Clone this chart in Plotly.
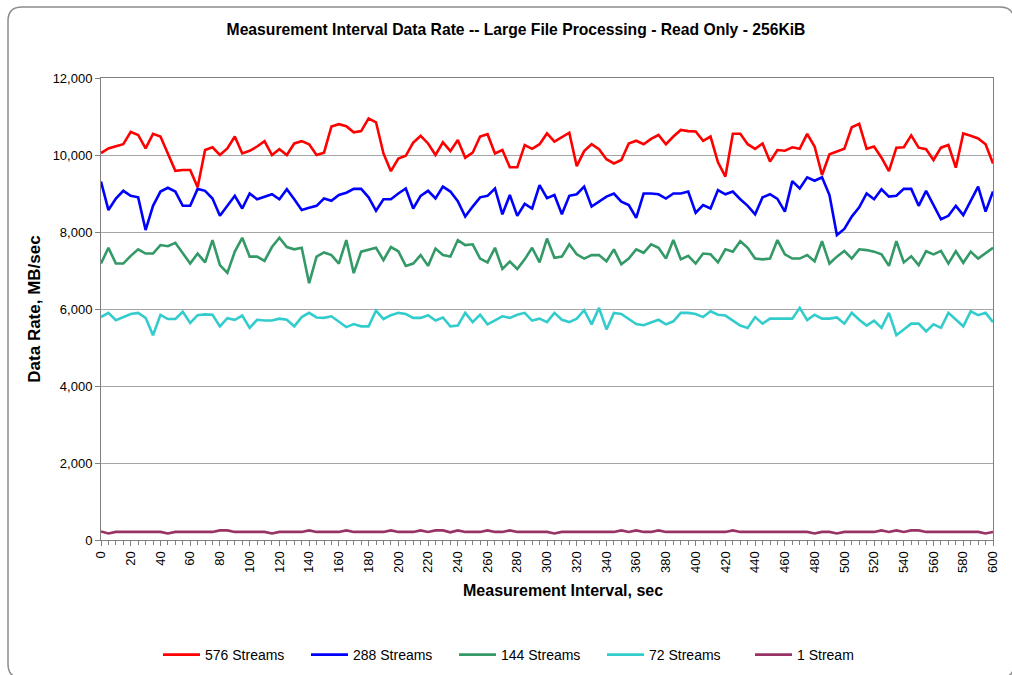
import plotly.graph_objects as go

# ---------------- data ----------------
intervals = list(range(0, 605, 5))  # seconds

streams_576 = [
    10050, 10170, 10230, 10280, 10600, 10520, 10170, 10550, 10480, 10040,
    9590, 9610, 9610, 9160, 10130, 10200, 10000, 10170, 10480, 10040,
    10110, 10220, 10360, 10000, 10150, 10000, 10300, 10360, 10280, 10000,
    10060,
    10740, 10800, 10750, 10590, 10620, 10950, 10850, 10040, 9580, 9910,
    9980, 10320, 10500, 10300, 10000, 10330, 10100, 10390, 9930, 10060,
    10480, 10540, 10040, 10130, 9680, 9680, 10260, 10160, 10280, 10560,
    10350, 10460, 10580, 9710, 10100, 10280, 10150, 9890, 9780, 9870,
    10300, 10370, 10280, 10420, 10520, 10280, 10480, 10650, 10620, 10610,
    10370, 10480, 9810, 9440, 10550, 10550, 10280, 10160, 10300, 9830,
    10130, 10110, 10200, 10160, 10550, 10220, 9480, 10020, 10090, 10160,
    10720, 10810, 10160, 10220, 9930, 9580, 10190, 10200, 10510, 10190,
    10150, 9870, 10190, 10260, 9670, 10560, 10500, 10430, 10280, 9780,
]

streams_288 = [
    9310, 8570, 8870, 9070, 8940, 8900, 8050, 8680, 9050, 9150,
    9050, 8680, 8680, 9120, 9070, 8870, 8420, 8680, 8940, 8610,
    9000, 8850, 8920, 8980, 8850, 9110, 8850, 8570, 8630, 8680,
    8870,
    8810, 8960, 9020, 9120, 9120, 8900, 8550, 8850, 8850, 9000,
    9130, 8610, 8940, 9070, 8870, 9180, 9050, 8800, 8400, 8660,
    8900, 8940, 9130, 8460, 8960, 8420, 8730, 8610, 9220, 8880,
    8960, 8460, 8940, 8980, 9180, 8660, 8790, 8920, 9000, 8790,
    8700, 8370, 9000, 9000, 8980, 8870, 9000, 9000, 9050, 8500,
    8700, 8610, 9090, 8980, 9050, 8850, 8680, 8460, 8900, 8980,
    8860, 8530, 9320, 9130, 9420, 9330, 9420, 8960, 7920, 8080,
    8400, 8640, 9000, 8850, 9110, 8920, 8940, 9120, 9120, 8680,
    9070, 8700, 8330, 8420, 8680, 8440, 8790, 9180, 8530, 9050,
]

streams_144 = [
    7180, 7590, 7180, 7180, 7380, 7550, 7440, 7440, 7660, 7630,
    7720, 7440, 7180, 7440, 7210, 7790, 7140, 6940, 7490, 7850,
    7360, 7360, 7250, 7610, 7850, 7610, 7550, 7590, 6670, 7360,
    7470,
    7400, 7180, 7790, 6930, 7490, 7550, 7590, 7270, 7610, 7500,
    7120, 7180, 7400, 7120, 7570, 7400, 7360, 7790, 7660, 7680,
    7310, 7210, 7590, 7040, 7230, 7040, 7290, 7590, 7210, 7830,
    7330, 7360, 7680, 7420, 7310, 7400, 7400, 7240, 7550, 7160,
    7310, 7550, 7460, 7680, 7590, 7310, 7790, 7290, 7380, 7180,
    7440, 7420, 7210, 7550, 7490, 7760, 7590, 7310, 7290, 7310,
    7790, 7420, 7310, 7310, 7400, 7240, 7760, 7180, 7360, 7510,
    7310, 7550, 7530, 7490, 7420, 7120, 7760, 7210, 7370, 7140,
    7500, 7420, 7510, 7180, 7500, 7200, 7490, 7310, 7460, 7590,
]

streams_72 = [
    5790, 5900, 5710, 5790, 5870, 5900, 5770, 5320, 5850, 5740,
    5740, 5930, 5640, 5840, 5860, 5850, 5550, 5760, 5720, 5830,
    5510, 5720, 5700, 5700, 5750, 5720, 5550, 5790, 5900, 5780,
    5770,
    5810, 5680, 5530, 5610, 5550, 5550, 5960, 5740, 5840, 5900,
    5870, 5770, 5770, 5840, 5700, 5780, 5550, 5570, 5900, 5660,
    5850, 5600, 5710, 5810, 5770, 5850, 5900, 5700, 5750, 5660,
    5900, 5720, 5660, 5750, 5970, 5600, 6030, 5470, 5900, 5870,
    5740, 5610, 5580, 5660, 5720, 5600, 5680, 5900, 5900, 5870,
    5790, 5940, 5850, 5830, 5710, 5570, 5510, 5790, 5620, 5750,
    5750, 5750, 5750, 6030, 5710, 5850, 5750, 5750, 5780, 5620,
    5900, 5720, 5570, 5700, 5510, 5900, 5320, 5470, 5620, 5620,
    5420, 5600, 5510, 5900, 5720, 5550, 5940, 5840, 5900, 5660,
]

stream_1 = [
    220, 170, 210, 210, 210, 210, 210, 210, 210, 170,
    210, 210, 210, 210, 210, 210, 250, 250, 210, 210,
    210, 210, 210, 170, 210, 210, 210, 210, 250, 210,
    210, 210, 210, 250, 210, 210, 210, 210, 210, 250,
    210, 210, 210, 250, 210, 250, 250, 200, 250, 210,
    210, 210, 250, 210, 210, 250, 210, 210, 210, 210,
    210, 170, 210, 210, 210, 210, 210, 210, 210, 210,
    250, 210, 250, 210, 210, 250, 210, 210, 210, 210,
    210, 210, 210, 210, 210, 250, 210, 210, 210, 210,
    210, 210, 210, 210, 210, 210, 170, 210, 210, 170,
    210, 210, 210, 210, 210, 250, 210, 250, 210, 250,
    250, 210, 210, 210, 210, 210, 210, 210, 210, 170,
    210,
]

series_names = ["576 Streams", "288 Streams", "144 Streams", "72 Streams", "1 Stream"]
series_values = [streams_576, streams_288, streams_144, streams_72, stream_1]
series_colors = ["#FF0000", "#0000FF", "#339966", "#33CCCC", "#993366"]

x_ticks = list(range(0, 620, 20))
y_ticks = list(range(0, 14000, 2000))

# ---------------- figure ----------------
FONT = "Liberation Sans, Arial, sans-serif"
W, H = 1012, 675
L, R, T, B = 101, 19, 78, 135
PW, PH = W - L - R, H - T - B

fig = go.Figure()
for name, vals, col in zip(series_names, series_values, series_colors):
    fig.add_trace(go.Scatter(
        x=intervals, y=vals, name=name, mode="lines",
        line=dict(color=col, width=2.6),
    ))

# outer rounded chart border (pixel -> paper)
def px(xp):
    return (xp - L) / PW

def py(yp):
    return (H - B - yp) / PH

x0, x1, yt, yb = px(8), px(1014), py(7), py(678)
rx, ry = 14 / PW, 14 / PH
path = (f"M {x0+rx},{yt} L {x1-rx},{yt} Q {x1},{yt} {x1},{yt-ry} "
        f"L {x1},{yb+ry} Q {x1},{yb} {x1-rx},{yb} L {x0+rx},{yb} "
        f"Q {x0},{yb} {x0},{yb+ry} L {x0},{yt-ry} Q {x0},{yt} {x0+rx},{yt} Z")

fig.update_layout(
    width=W, height=H,
    margin=dict(l=L, r=R, t=T, b=B, autoexpand=False),
    paper_bgcolor="white", plot_bgcolor="white",
    font=dict(family=FONT, size=12, color="black"),
    title=dict(
        text="<b>Measurement Interval Data Rate -- Large File Processing - Read Only - 256KiB</b>",
        x=px(516), xref="paper", xanchor="center",
        y=1 - 30 / H, yref="container", yanchor="middle",
        font=dict(family=FONT, size=15.7, color="black"),
    ),
    shapes=[dict(type="path", xref="paper", yref="paper", path=path,
                 line=dict(color="#8c8c8c", width=1.5), layer="below")],
    annotations=[dict(
        text="<b>Measurement Interval, sec</b>", xref="paper", yref="paper",
        x=px(563), y=py(590), xanchor="center", yanchor="middle", showarrow=False,
        font=dict(family=FONT, size=16, color="black"),
    )],
    showlegend=True,
    legend=dict(
        orientation="h", x=px(158), xanchor="left", y=py(655), yanchor="middle",
        font=dict(family=FONT, size=14, color="black"),
        itemwidth=37, entrywidth=96, entrywidthmode="pixels",
        bgcolor="rgba(0,0,0,0)", tracegroupgap=0,
    ),
    xaxis=dict(
        range=[0, 600], tickvals=x_ticks, ticktext=[str(v) for v in x_ticks],
        tickangle=-90, ticks="outside", ticklen=5, tickcolor="#808080",
        showline=True, linecolor="#808080", linewidth=1, mirror=True,
        showgrid=False, zeroline=False,
        minor=dict(dtick=5, tick0=0, ticks="outside", ticklen=4, tickcolor="#808080", showgrid=False),
        tickfont=dict(family=FONT, size=13, color="black"),
    ),
    yaxis=dict(
        range=[0, 12000], tickvals=y_ticks, tickformat=",",
        ticks="outside", ticklen=5, tickcolor="#808080",
        showline=True, linecolor="#808080", linewidth=1, mirror=True,
        showgrid=True, gridcolor="#a6a6a6", gridwidth=1, zeroline=False,
        tickfont=dict(family=FONT, size=13, color="black"),
        title=dict(text="<b>Data Rate, MB/sec</b>", standoff=7,
                   font=dict(family=FONT, size=17, color="black")),
    ),
)

fig.write_html("out.html", config={"displayModeBar": False},
               post_script="document.body.style.margin='0';")
